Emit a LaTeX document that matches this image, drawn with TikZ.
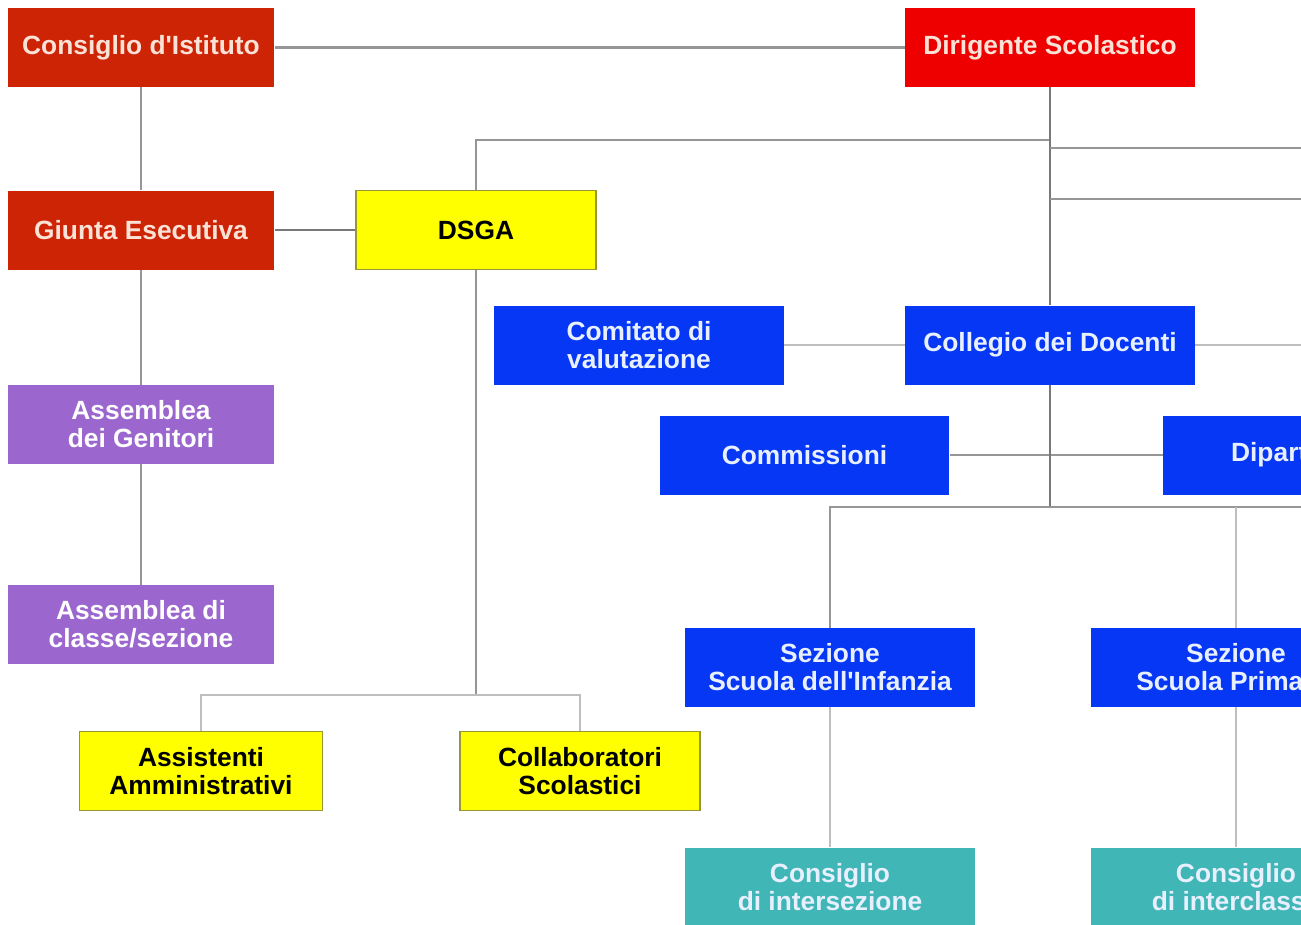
\documentclass[tikz,border=0pt]{standalone}
\usepackage{fontspec}
\setmainfont{Liberation Sans}
\definecolor{istRed}{RGB}{206,36,6}
\definecolor{dirRed}{RGB}{238,0,0}
\definecolor{redText}{RGB}{250,226,214}
\definecolor{dsgaYellow}{RGB}{255,255,0}
\definecolor{dsgaBorder}{RGB}{150,150,50}
\definecolor{docBlue}{RGB}{5,55,245}
\definecolor{blueText}{RGB}{232,240,255}
\definecolor{genPurple}{RGB}{155,102,206}
\definecolor{conTeal}{RGB}{64,182,182}
\definecolor{lineDark}{RGB}{120,120,120}
\definecolor{lineMid}{RGB}{150,150,150}
\definecolor{lineLight}{RGB}{190,190,190}
\begin{document}
\begin{tikzpicture}[x=0.02cm,y=-0.02cm,
	box/.style={rectangle, inner sep=2pt, align=center, minimum height=1.58cm,
		font=\fontsize{15}{16}\selectfont\bfseries},
	redbox/.style={box, fill=istRed, text=redText, minimum width=5.34cm},
	topbox/.style={box, fill=dirRed, text=redText, minimum width=5.8cm},
	yellowbox/.style={box, fill=dsgaYellow, draw=dsgaBorder, line width=0.8pt, text=black},
	purplebox/.style={box, fill=genPurple, text=white, minimum width=5.34cm},
	bluebox/.style={box, fill=docBlue, text=blueText, minimum width=5.8cm},
	tealbox/.style={box, fill=conTeal, text=blueText, minimum width=5.8cm},
	darklink/.style={draw=lineDark, line width=1.2pt},
	link/.style={draw=lineMid, line width=1.2pt},
	thinlink/.style={draw=lineLight, line width=1.2pt}]
	\useasboundingbox (0,0) rectangle (1301,924);
	\clip (0,0) rectangle (1301,924);
	% consiglio, giunta, assemblee
	\node[redbox] (consiglio) at (141,47.5) {Consiglio d\textquotesingle Istituto};
	\node[redbox] (giunta) at (141,230) {Giunta Esecutiva};
	\node[purplebox] (genitori) at (141,424.5) {Assemblea\\dei Genitori};
	\node[purplebox] (classe) at (141,624.5) {Assemblea di\\classe/sezione};
	% segreteria
	\node[yellowbox, minimum width=4.8cm] (dsga) at (476,230) {DSGA};
	\node[yellowbox, minimum width=4.86cm] (assistenti) at (201,771) {Assistenti\\Amministrativi};
	\node[yellowbox, minimum width=4.8cm] (collaboratori) at (580,771) {Collaboratori\\Scolastici};
	% dirigente e organi collegiali
	\node[topbox] (dirigente) at (1050,47.5) {Dirigente Scolastico};
	\node[bluebox] (collegio) at (1050,345) {Collegio dei Docenti};
	\node[bluebox] (comitato) at (639,345) {Comitato di\\valutazione};
	\node[bluebox] (commissioni) at (804.5,455) {Commissioni};
	\node[bluebox] (dipartimenti) at (1308,455) {Dipart\phantom{imenti}};
	\node[bluebox] (infanzia) at (830,667.5) {Sezione\\Scuola dell\textquotesingle Infanzia};
	\node[bluebox] (primaria) at (1236,667.5) {Sezione\\Scuola Prima\phantom{ria}};
	\node[tealbox] (intersezione) at (830,887) {Consiglio\\di intersezione};
	\node[tealbox] (interclasse) at (1236,887) {Consiglio\\di interclass\phantom{e}};
	% bus lines
	\coordinate (topbus) at (0,140);
	\coordinate (edgeA) at (1310,148);
	\coordinate (edgeB) at (1310,199);
	\coordinate (edgeC) at (1310,507);
	\coordinate (atabus) at (0,695);
	% links
	\draw[link] (consiglio) -- (dirigente);
	\draw[link] (consiglio) -- (giunta);
	\draw[link] (giunta) -- (genitori);
	\draw[link] (genitori) -- (classe);
	\draw[darklink] (giunta) -- (dsga);
	\draw[link] (dsga.south) -- (dsga.south |- atabus);
	\draw[thinlink] (assistenti.north) |- (atabus -| collaboratori.north) -- (collaboratori.north);
	\draw[link] (dsga.north) |- (topbus -| dirigente.south);
	\draw[darklink] (dirigente) -- (collegio);
	\draw[link] (dirigente.south |- edgeA) -- (edgeA);
	\draw[link] (dirigente.south |- edgeB) -- (edgeB);
	\draw[thinlink] (comitato) -- (collegio);
	\draw[thinlink] (collegio.east) -- (collegio.east -| edgeA);
	\draw[link] (commissioni) -- (dipartimenti);
	\draw[darklink] (collegio.south) -- (collegio.south |- edgeC);
	\draw[link] (infanzia.north) |- (edgeC);
	\draw[thinlink] (primaria.north) -- (primaria.north |- edgeC);
	\draw[thinlink] (infanzia) -- (intersezione);
	\draw[thinlink] (primaria) -- (interclasse);
\end{tikzpicture}
\end{document}
